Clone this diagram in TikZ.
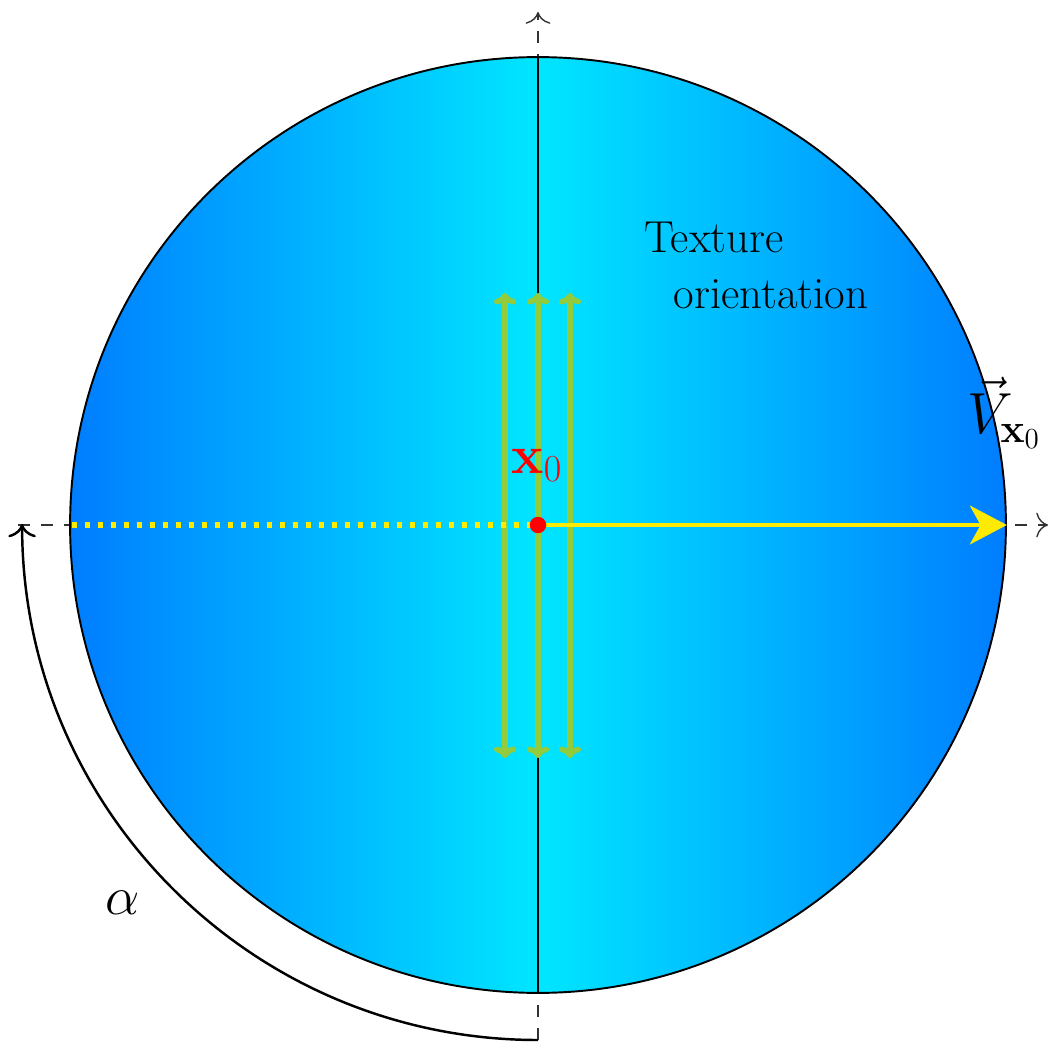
\documentclass[tikz,border=0pt]{standalone}
\usepackage{fix-cm}
\usetikzlibrary{arrows.meta}
\definecolor{edgeblue}{RGB}{0,125,255}
\definecolor{midcyan}{RGB}{0,230,255}
\definecolor{arrgreen}{RGB}{146,204,60}
\definecolor{vyellow}{RGB}{255,235,0}
\tikzset{
  axisline/.style={dash pattern=on 6.6pt off 6.6pt, line width=0.8pt, draw=black!80, -{To[scale=2]}},
  greenarrow/.style={draw=arrgreen, line width=3.2pt, {To[length=6.5pt, width=12.5pt]}-{To[length=6.5pt, width=12.5pt]}},
  txt/.style={font=\fontsize{25.5}{30}\selectfont, inner sep=0pt},
  mathlbl/.style={font=\fontsize{31}{36}\selectfont, inner sep=0pt}
}
\begin{document}
\begin{tikzpicture}[x=0.02cm,y=-0.02cm]
\useasboundingbox (0,0) rectangle (1050,1043);
\coordinate (O) at (538,525);
\coordinate (hl) at (18,525);
\coordinate (hr) at (1048,525);
\coordinate (vt) at (538,12);
\coordinate (vb) at (538,1040);
% dashed axes
\draw[axisline] (hl) -- (hr);
\draw[axisline] (vb) -- (vt);
% disk
\node[circle, minimum size=18.72cm, inner sep=0pt, draw=black, line width=1.1pt,
      left color=edgeblue, right color=edgeblue, middle color=midcyan] (disk) at (O) {};
% vertical line inside
\draw[black, line width=0.85pt] (disk.north) -- (disk.south);
% green arrows
\coordinate (g1t) at (505,293); \coordinate (g1b) at (505,758);
\coordinate (g2t) at (538,293); \coordinate (g2b) at (538,758);
\coordinate (g3t) at (570,293); \coordinate (g3b) at (570,758);
\draw[greenarrow] (g1b) -- (g1t);
\draw[greenarrow] (g2b) -- (g2t);
\draw[greenarrow] (g3b) -- (g3t);
% yellow lines
\draw[vyellow, line width=3.2pt, dash pattern=on 3.2pt off 4.2pt] ([xshift=1.5pt]disk.west) -- (O);
\draw[vyellow, line width=2.8pt, -{Stealth[length=21pt, width=22pt, inset=6pt]}] (O) -- (disk.east);
% center dot
\fill[red] (O) circle[radius=0.165cm];
% arc alpha
\draw[black, line width=1.4pt, -{To[scale=1.6]}] (vb) arc[start angle=270, end angle=180, radius=10.32cm];
% labels
\node[mathlbl, text=red] (x0) at (537,465) {$\mathbf{x}_0$};
\node[mathlbl] (alpha) at (123,903) {$\alpha$};
\node[mathlbl, font=\fontsize{33}{38}\selectfont] (V) at (1004,413) {$\vec{V}_{\mathbf{x}_0}$};
\node[txt] (tex) at (714,237) {Texture};
\node[txt] (ori) at (771,294) {orientation};
\end{tikzpicture}
\end{document}
